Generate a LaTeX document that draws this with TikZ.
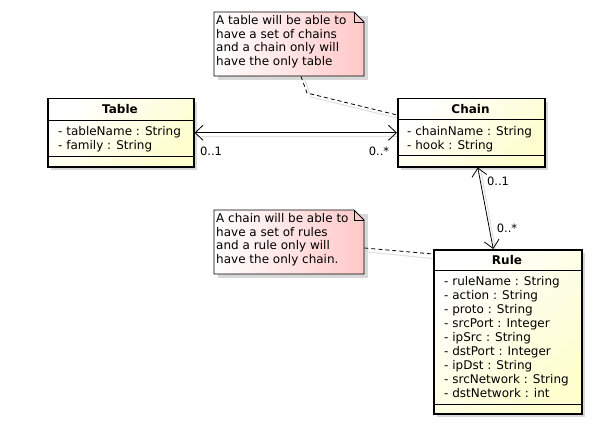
\documentclass[tikz,border=0pt]{standalone}
\usepackage{fontspec}
\setmainfont{DejaVu Sans}
\usetikzlibrary{arrows.meta,calc,shadings}
\definecolor{clsyellow}{HTML}{FEFECE}
\definecolor{notepink}{HTML}{FFC8C8}
\definecolor{shadowgray}{HTML}{D8D8D8}
\definecolor{lineshadow}{HTML}{E0E0E0}
\tikzset{
  classbox/.style={draw=black, line width=1.5pt, inner sep=0pt, anchor=north west,
    top color=white, bottom color=clsyellow, shading angle=45},
  notebox/.style={inner sep=0pt, anchor=north west},
  divider/.style={line width=1pt},
  txt/.style={inner sep=0pt, anchor=north west, align=left,
    font=\fontsize{12}{14}\selectfont},
  notetxt/.style={inner sep=0pt, anchor=north west, align=left,
    font=\fontsize{12}{13.8}\selectfont},
  title/.style={inner sep=0pt, font=\fontsize{12}{14}\selectfont\bfseries},
  mult/.style={inner sep=0pt, font=\fontsize{11.5}{13}\selectfont},
  assoc/.style={line width=0.8pt, {Straight Barb[length=8pt,width=15pt]}-{Straight Barb[length=8pt,width=15pt]}},
  notelink/.style={line width=0.8pt, dash pattern=on 4pt off 3pt},
  shadowline/.style={lineshadow, line width=1pt}
}
\begin{document}
\begin{tikzpicture}[x=1pt,y=-1pt]
\useasboundingbox[fill=white] (0,0) rectangle (612,441);

% ---------- shadows ----------
\fill[shadowgray] (51,102) rectangle (197,170);
\fill[shadowgray] (401,102) rectangle (548,170);
\fill[shadowgray] (437,253) rectangle (585,417);
\fill[shadowgray] (218,16) rectangle (368,80);
\fill[shadowgray] (218,214) rectangle (368,278);

% ---------- line shadows ----------
\draw[shadowline] (197,136) -- (401,136);
\draw[shadowline] (481,171) -- (496,253);
\draw[shadowline] (305,80) -- (311,97) -- (401,119);
\draw[shadowline] (368,252) -- (437,259);

% ---------- Table ----------
\node[classbox, minimum width=146pt, minimum height=68pt] (table) at (47,98) {};
\draw[divider] (47,120) -- (193,120);
\draw[divider] (47,156) -- (193,156);
\node[title] (tabletitle) at (120,109) {Table};
\node[txt] (tableattr) at (58,126) {- tableName : String\\- family : String};

% ---------- Chain ----------
\node[classbox, minimum width=147pt, minimum height=68pt] (chain) at (397,98) {};
\draw[divider] (397,119) -- (544,119);
\draw[divider] (397,155) -- (544,155);
\node[title] (chaintitle) at (470.5,109) {Chain};
\node[txt] (chainattr) at (407,126) {- chainName : String\\- hook : String};

% ---------- Rule ----------
\node[classbox, minimum width=148pt, minimum height=164pt] (rule) at (433,249) {};
\draw[divider] (433,270) -- (581,270);
\draw[divider] (433,404) -- (581,404);
\node[title] (ruletitle) at (507,260) {Rule};
\node[txt] (ruleattr) at (444,276) {- ruleName : String\\- action : String\\- proto : String\\- srcPort : Integer\\- ipSrc : String\\- dstPort : Integer\\- ipDst : String\\- srcNetwork : String\\- dstNetwork : int};

% ---------- Notes ----------
\shade[left color=white, right color=notepink] (214,12) -- (354,12) -- (364,22) -- (364,76) -- (214,76) -- cycle;
\draw[line width=0.8pt] (214,12) -- (354,12) -- (364,22) -- (364,76) -- (214,76) -- cycle;
\draw[line width=0.8pt] (354,12) -- (354,22) -- (364,22);
\node[notebox, minimum width=150pt, minimum height=64pt] (note1) at (214,12) {};
\node[notetxt] (note1text) at (216,15) {A table will be able to\\have a set of chains\\and a chain only will\\have the only table};

\shade[left color=white, right color=notepink] (214,210) -- (354,210) -- (364,220) -- (364,274) -- (214,274) -- cycle;
\draw[line width=0.8pt] (214,210) -- (354,210) -- (364,220) -- (364,274) -- (214,274) -- cycle;
\draw[line width=0.8pt] (354,210) -- (354,220) -- (364,220);
\node[notebox, minimum width=150pt, minimum height=64pt] (note2) at (214,210) {};
\node[notetxt] (note2text) at (216,213) {A chain will be able to\\have a set of rules\\and a rule only will\\have the only chain.};

% ---------- connectors ----------
\draw[assoc] (table.east) -- (chain.west);
\node[mult] (m1) at (211,151) {0..1};
\node[mult] (m2) at (379,151) {0..*};

\coordinate (chainbot) at ($(chain.south)+(6.5,0)$);
\coordinate (ruletop) at ($(rule.north)+(-14.5,0)$);
\draw[assoc] (chainbot) -- (ruletop);
\node[mult] (m3) at (498,181) {0..1};
\node[mult] (m4) at (507,228) {0..*};

\coordinate (n1a) at ($(note1.south west)+(87,0)$);
\coordinate (n1b) at (307,93);
\coordinate (chainnw) at ($(chain.north west)+(0,17)$);
\draw[notelink] (n1a) -- (n1b) -- (chainnw);

\coordinate (n2a) at ($(note2.north east)+(0,38)$);
\coordinate (rulew) at ($(rule.north west)+(0,5)$);
\draw[notelink] (n2a) -- (rulew);
\end{tikzpicture}
\end{document}
